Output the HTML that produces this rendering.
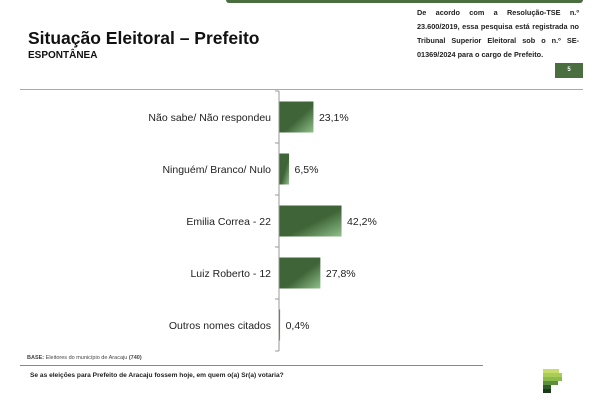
<!DOCTYPE html>
<html><head><meta charset="utf-8"><style>
body{margin:0;width:600px;height:400px;background:#fff;font-family:"Liberation Sans",sans-serif;position:relative;overflow:hidden}
.a{position:absolute}
</style></head><body>
<div class="a" style="left:226px;top:0;width:357px;height:3px;background:#4a6e3f;border-radius:0 0 3px 3px"></div>
<div class="a" style="left:28px;top:28px;font-size:17.5px;font-weight:bold;color:#111;line-height:20px">Situação Eleitoral – Prefeito</div>
<div class="a" style="left:28px;top:50px;font-size:10px;font-weight:bold;color:#111;line-height:11px">ESPONTÂNEA</div>
<div class="a" style="left:417px;top:6px;width:162px;font-size:7.3px;font-weight:bold;line-height:14px;text-align:justify;color:#222">De acordo com a Resolução-TSE n.º 23.600/2019, essa pesquisa está registrada no Tribunal Superior Eleitoral sob o n.º SE-01369/2024 para o cargo de Prefeito.</div>
<div class="a" style="left:555px;top:63px;width:28px;height:15px;background:#4a6e3f;color:#fff;font-size:6px;font-weight:bold;text-align:center;line-height:15px">5</div>
<div class="a" style="left:20px;top:89px;width:563px;height:1px;background:#aaa"></div>
<svg class="a" style="left:0;top:0" width="600" height="400">
<defs><linearGradient id="g" x1="0" y1="0" x2="1" y2="1"><stop offset="0.55" stop-color="#3f6437"/><stop offset="1" stop-color="#8fc08a"/></linearGradient></defs>
<g id="chart"></g>
</svg>
<div class="a" style="left:27px;top:355px;font-size:5.5px;color:#444"><b>BASE:</b> Eleitores do município de Aracaju <b>(740)</b></div>
<div class="a" style="left:20px;top:365px;width:463px;height:1px;background:#888"></div>
<div class="a" style="left:30px;top:372px;font-size:6.6px;font-weight:bold;color:#222">Se as eleições para Prefeito de Aracaju fossem hoje, em quem o(a) Sr(a) votaria?</div>
<div class="a" style="left:543px;top:369px;width:20px;height:25px">
<div style="height:4px;width:16px;background:#c6dd6a"></div><div style="height:4px;width:19px;background:#a9cc57"></div><div style="height:4px;width:19px;background:#8bbb4a"></div><div style="height:4px;width:15px;background:#5b8f3b"></div><div style="height:4px;width:8px;background:#2f5a2a"></div><div style="height:4px;width:8px;background:#1c3a1a"></div>
</div>
<script>
const categories=["Não sabe/ Não respondeu","Ninguém/ Branco/ Nulo","Emilia Correa - 22","Luiz Roberto - 12","Outros nomes citados"];
const values=[23.1,6.5,42.2,27.8,0.4];
const labels=["23,1%","6,5%","42,2%","27,8%","0,4%"];
const ns="http://www.w3.org/2000/svg";
const g=document.getElementById('chart');
const x0=279,scale=1.47,top0=91,slot=52,bh=31;
const xs=v=>x0+v*scale;
const yc=i=>top0+slot*i+slot/2;
function el(t,a){const e=document.createElementNS(ns,t);for(const k in a)e.setAttribute(k,a[k]);g.appendChild(e);return e;}
const ax=el('line',{x1:x0,y1:top0,x2:x0,y2:top0+slot*5,stroke:'#999','stroke-width':1});


for(let i=0;i<=5;i++){const t=el('line',{x1:x0-4,x2:x0,y1:top0+slot*i,y2:top0+slot*i,stroke:'#999'});

}
categories.forEach((c,i)=>{
const y=yc(i);
const r=el('rect',{x:x0+0.5,y:y-bh/2,width:Math.max(values[i]*scale,0.6),height:bh,fill:'url(#g)'});


const l=el('text',{x:x0-8,y:y+4,'text-anchor':'end','font-size':'10.5',fill:'#222'});l.textContent=c;


const v=el('text',{x:xs(values[i])+6,y:y+4,'font-size':'10.5',fill:'#222'});v.textContent=labels[i];


});
</script>
</body></html>
